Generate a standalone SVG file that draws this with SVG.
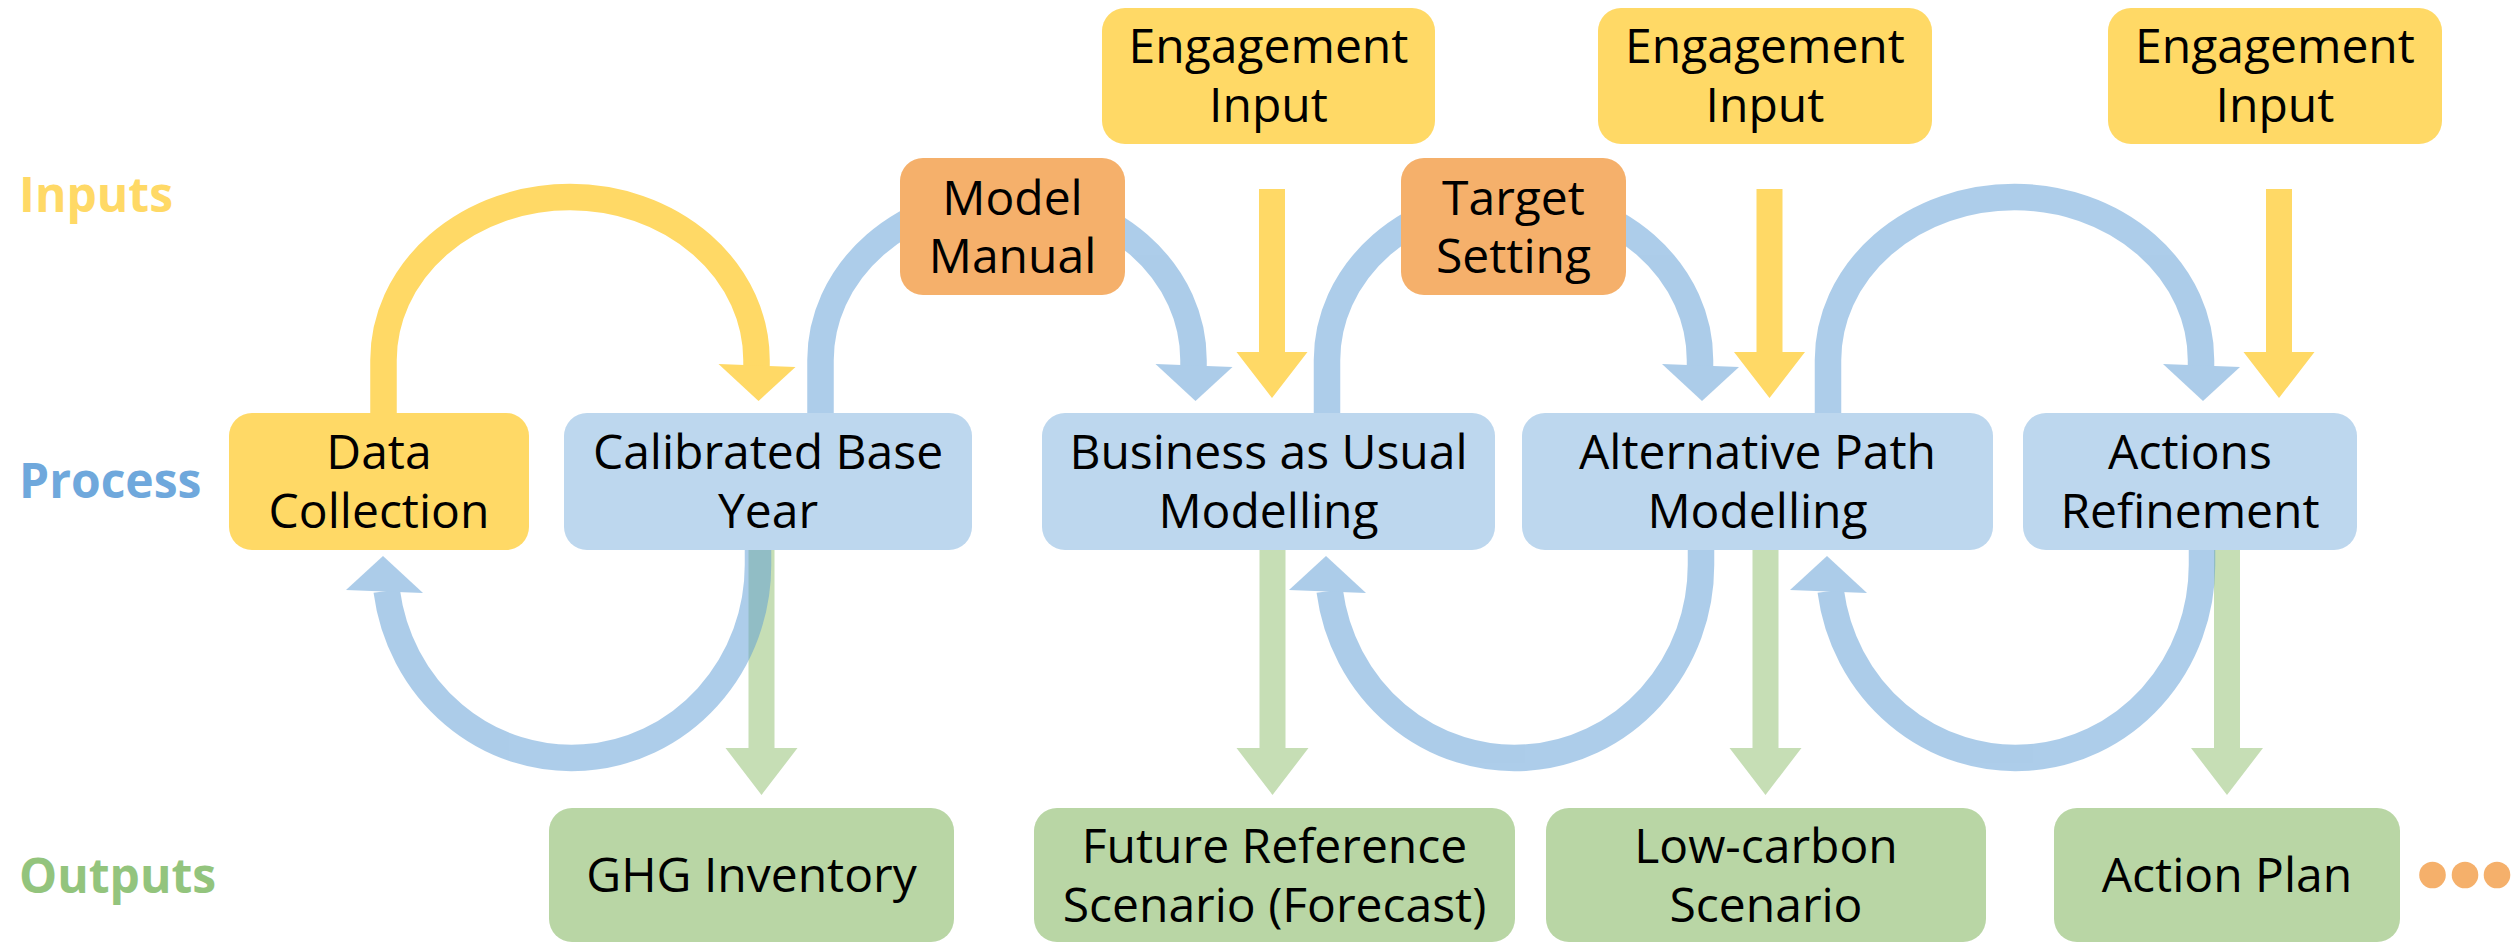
<svg xmlns="http://www.w3.org/2000/svg" width="2512" height="942" viewBox="0 0 2512 942">
<style>
text{font-family:"Open Sans","DejaVu Sans",sans-serif;font-size:48px;fill:#000;text-anchor:middle}
.lbl{font-weight:bold;text-anchor:start}
.yel{fill:#FFD966}
.blu{fill:#BDD7EE}
.grn{fill:#B9D6A5}
.org{fill:#F5B06B}
.arcB{fill:none;stroke:#5B9BD5;stroke-width:26.5}
.arcY{fill:none;stroke:#FFD966;stroke-width:26.5}
</style>
<rect width="2512" height="942" fill="#fff"/>

<g id="row-labels">
<text class="lbl" x="19" y="212" style="fill:#FFD966">Inputs</text>
<text class="lbl" x="19" y="498" style="fill:#6FA8DC">Process</text>
<text class="lbl" x="19" y="893" style="fill:#93C47D">Outputs</text>
</g>

<g id="connectors">
<g fill="#70AD47" opacity="0.4">
<polygon points="748.5,545 774.5,545 774.5,748 797.5,748 761.5,795 725.5,748 748.5,748"/>
<polygon points="1259.5,545 1285.5,545 1285.5,748 1308.5,748 1272.5,795 1236.5,748 1259.5,748"/>
<polygon points="1752.5,545 1778.5,545 1778.5,748 1801.5,748 1765.5,795 1729.5,748 1752.5,748"/>
<polygon points="2214,545 2240,545 2240,748 2263,748 2227,795 2191,748 2214,748"/>
</g>
<g class="yel">
<polygon points="1259,189 1285,189 1285,352 1307.5,352 1272,398 1236.5,352 1259,352"/>
<polygon points="1756.5,189 1782.5,189 1782.5,352 1805,352 1769.5,398 1734,352 1756.5,352"/>
<polygon points="2266,189 2292,189 2292,352 2314.5,352 2279,398 2243.5,352 2266,352"/>
</g>
<g>
<path class="arcY" d="M383.5,420 V360 A186.5,163 0 0 1 756.5,360 V366"/>
<polygon class="yel" points="718.5,364 795.5,367 758.5,401"/>
</g>
<g opacity="0.5">
<path class="arcB" d="M820.5,420 V360 A186.5,163 0 0 1 1193.5,360 V366"/>
<polygon fill="#5B9BD5" points="1155.5,364 1232.5,367 1195.5,401"/>
</g>
<g opacity="0.5">
<path class="arcB" d="M1327,420 V360 A186.5,163 0 0 1 1700,360 V366"/>
<polygon fill="#5B9BD5" points="1662,364 1739,367 1702,401"/>
</g>
<g opacity="0.5">
<path class="arcB" d="M1828,420 V360 A186.5,163 0 0 1 2201,360 V366"/>
<polygon fill="#5B9BD5" points="2163,364 2240,367 2203,401"/>
</g>
<g opacity="0.5">
<path class="arcB" d="M758,543 V565 A186.5,193 0 0 1 386.7,591"/>
<polygon fill="#5B9BD5" points="346,590 423,593 383,556"/>
</g>
<g opacity="0.5">
<path class="arcB" d="M1701,543 V565 A186.5,193 0 0 1 1329.7,591"/>
<polygon fill="#5B9BD5" points="1289,590 1366,593 1326,556"/>
</g>
<g opacity="0.5">
<path class="arcB" d="M2202,543 V565 A186.5,193 0 0 1 1830.7,591"/>
<polygon fill="#5B9BD5" points="1790,590 1867,593 1827,556"/>
</g>
</g>

<g id="engagement-1"><rect class="yel" x="1102" y="8" width="333" height="136" rx="23"/><text x="1268.5" y="63">Engagement</text><text x="1268.5" y="122">Input</text></g>
<g id="engagement-2"><rect class="yel" x="1598" y="8" width="334" height="136" rx="23"/><text x="1765" y="63">Engagement</text><text x="1765" y="122">Input</text></g>
<g id="engagement-3"><rect class="yel" x="2108" y="8" width="334" height="136" rx="23"/><text x="2275" y="63">Engagement</text><text x="2275" y="122">Input</text></g>
<g id="model-manual"><rect class="org" x="900" y="158" width="225" height="137" rx="23"/><text x="1012.5" y="215">Model</text><text x="1012.5" y="273">Manual</text></g>
<g id="target-setting"><rect class="org" x="1401" y="158" width="225" height="137" rx="23"/><text x="1513.5" y="215">Target</text><text x="1513.5" y="273">Setting</text></g>

<g id="data-collection"><rect class="yel" x="229" y="413" width="300" height="137" rx="23"/><text x="379" y="469">Data</text><text x="379" y="528">Collection</text></g>
<g id="calibrated-base-year"><rect class="blu" x="564" y="413" width="408" height="137" rx="23"/><text x="768" y="469">Calibrated Base</text><text x="768" y="528">Year</text></g>
<g id="bau-modelling"><rect class="blu" x="1042" y="413" width="453" height="137" rx="23"/><text x="1268.5" y="469">Business as Usual</text><text x="1268.5" y="528">Modelling</text></g>
<g id="alt-path-modelling"><rect class="blu" x="1522" y="413" width="471" height="137" rx="23"/><text x="1757.5" y="469">Alternative Path</text><text x="1757.5" y="528">Modelling</text></g>
<g id="actions-refinement"><rect class="blu" x="2023" y="413" width="334" height="137" rx="23"/><text x="2190" y="469">Actions</text><text x="2190" y="528">Refinement</text></g>

<g id="ghg-inventory"><rect class="grn" x="549" y="808" width="405" height="134" rx="23"/><text x="751.5" y="892">GHG Inventory</text></g>
<g id="future-reference"><rect class="grn" x="1034" y="808" width="481" height="134" rx="23"/><text x="1274.5" y="863">Future Reference</text><text x="1274.5" y="922">Scenario (Forecast)</text></g>
<g id="low-carbon"><rect class="grn" x="1546" y="808" width="440" height="134" rx="23"/><text x="1766" y="863">Low-carbon</text><text x="1766" y="922">Scenario</text></g>
<g id="action-plan"><rect class="grn" x="2054" y="808" width="346" height="134" rx="23"/><text x="2227" y="892">Action Plan</text></g>

<g id="ellipsis" fill="#F5B06B">
<circle cx="2432.5" cy="875" r="13.3"/>
<circle cx="2465" cy="875" r="13.3"/>
<circle cx="2497" cy="875" r="13.3"/>
</g>
</svg>
